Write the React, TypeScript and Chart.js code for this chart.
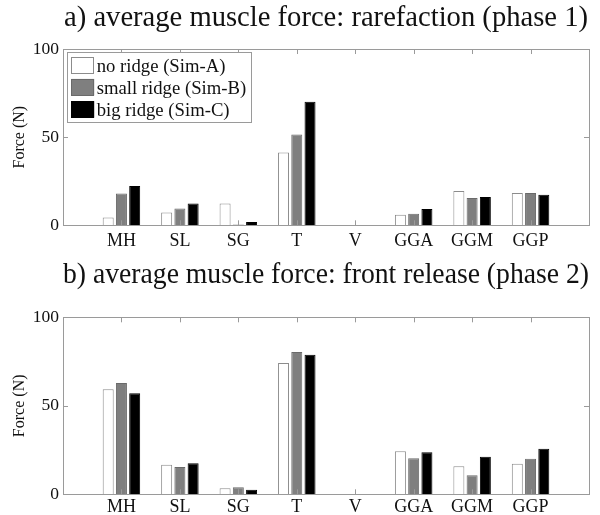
import React, { useEffect, useRef } from "react";
import { Chart, registerables } from "chart.js";

Chart.register(...registerables);

const CATEGORIES = ["MH", "SL", "SG", "T", "V", "GGA", "GGM", "GGP"];
const SERIES_LABELS = ["no ridge (Sim-A)", "small ridge (Sim-B)", "big ridge (Sim-C)"];
const TITLE_A = "a) average muscle force: rarefaction (phase 1)";
const TITLE_B = "b) average muscle force: front release (phase 2)";
const Y_LABEL = "Force (N)";
const Y_TICKS = [0, 50, 100];

const PHASE1_SIM_A = [4.4, 7.2, 12.3, 41.3, 0.2, 6.0, 19.4, 18.3];
const PHASE1_SIM_B = [18.0, 9.5, 0.5, 51.5, 0.2, 6.5, 15.5, 18.3];
const PHASE1_SIM_C = [22.3, 12.3, 1.9, 70.1, 0.2, 9.2, 16.0, 17.3];

const PHASE2_SIM_A = [59.3, 16.7, 3.4, 74.2, 0.2, 24.3, 15.8, 17.3];
const PHASE2_SIM_B = [62.9, 15.4, 4.0, 80.4, 0.2, 20.3, 10.7, 20.1];
const PHASE2_SIM_C = [57.1, 17.5, 2.6, 78.9, 0.2, 23.7, 21.2, 25.8];

const FILLS = ["#ffffff", "#7f7f7f", "#000000"];
const EDGES = ["#8c8c8c", "#6a6a6a", "#000000"];
const FRAME = "#9a9a9a";
const TEXT = "#111111";
const FONT = "'Liberation Serif', 'Times New Roman', serif";

Chart.defaults.font.family = FONT;
Chart.defaults.color = TEXT;

const framePlugin = {
  id: "frame",
  afterDatasetsDraw(chart: any) {
    const { ctx, chartArea } = chart;
    const xs = chart.scales.x;
    const ys = chart.scales.y;
    const tl = 5;
    ctx.save();
    ctx.strokeStyle = FRAME;
    ctx.lineWidth = 1;
    ctx.beginPath();
    for (let i = 1; i <= CATEGORIES.length; i++) {
      const px = Math.round(xs.getPixelForValue(i)) + 0.5;
      ctx.moveTo(px, chartArea.top);
      ctx.lineTo(px, chartArea.top + tl);
      ctx.moveTo(px, chartArea.bottom);
      ctx.lineTo(px, chartArea.bottom - tl);
    }
    for (const t of Y_TICKS) {
      const py = Math.round(ys.getPixelForValue(t)) + 0.5;
      ctx.moveTo(chartArea.left, py);
      ctx.lineTo(chartArea.left + tl, py);
      ctx.moveTo(chartArea.right, py);
      ctx.lineTo(chartArea.right - tl, py);
    }
    ctx.stroke();
    ctx.strokeRect(
      Math.round(chartArea.left) + 0.5,
      Math.round(chartArea.top) + 0.5,
      Math.round(chartArea.right - chartArea.left),
      Math.round(chartArea.bottom - chartArea.top)
    );
    ctx.restore();
  },
};

const boxLegendPlugin = {
  id: "boxLegend",
  afterDraw(chart: any, _args: any, opts: any) {
    if (!opts || !opts.show) return;
    const { ctx, chartArea } = chart;
    const left = chartArea.left + 3.7;
    const top = chartArea.top + 3.3;
    const w = 184;
    const h = 70;
    ctx.save();
    ctx.fillStyle = "#ffffff";
    ctx.fillRect(left, top, w, h);
    ctx.strokeStyle = FRAME;
    ctx.lineWidth = 1;
    ctx.strokeRect(Math.round(left) + 0.5, Math.round(top) + 0.5, w, h);
    ctx.font = `18.7px ${FONT}`;
    ctx.textBaseline = "alphabetic";
    ctx.textAlign = "left";
    chart.data.datasets.forEach((ds: any, i: number) => {
      const sy = top + 4.4 + i * 22.2;
      ctx.fillStyle = ds.backgroundColor;
      ctx.fillRect(left + 4.5, sy, 23, 16.6);
      ctx.strokeStyle = ds.borderColor;
      ctx.strokeRect(Math.round(left + 4.5) + 0.5, Math.round(sy) + 0.5, 22, 16);
      ctx.fillStyle = TEXT;
      ctx.fillText(ds.label, left + 30, top + 19.4 + i * 22);
    });
    ctx.restore();
  },
};

type PanelProps = {
  title: string;
  a: number[];
  b: number[];
  c: number[];
  height: number;
  titlePad: { top: number; bottom: number };
  xHeight: number;
  xPad: number;
  legend: boolean;
};

function Panel(props: PanelProps) {
  const ref = useRef<HTMLCanvasElement | null>(null);
  useEffect(() => {
    if (!ref.current) return;
    const series = [props.a, props.b, props.c];
    const chart = new Chart(ref.current, {
      type: "bar",
      data: {
        datasets: series.map((vals, si) => ({
          label: SERIES_LABELS[si],
          data: vals.map((v, i) => ({ x: i + 1, y: v })),
          backgroundColor: FILLS[si],
          borderColor: EDGES[si],
          borderWidth: 1,
          categoryPercentage: 0.68,
          barPercentage: 0.83,
        })),
      },
      options: {
        animation: false,
        responsive: false,
        layout: { padding: { left: 0, right: 11, top: 0, bottom: 0 } },
        plugins: {
          legend: { display: false },
          tooltip: { enabled: false },
          title: {
            display: true,
            text: props.title,
            fullSize: false,
            color: TEXT,
            font: { size: 28.6, weight: "normal" },
            padding: props.titlePad,
          },
          boxLegend: { show: props.legend },
        } as any,
        scales: {
          x: {
            type: "linear",
            min: 0,
            max: CATEGORIES.length + 1,
            offset: false,
            grid: { display: false, drawTicks: false },
            border: { display: false },
            ticks: {
              stepSize: 1,
              autoSkip: false,
              maxRotation: 0,
              padding: props.xPad,
              color: TEXT,
              font: { size: 18 },
              callback: (v: any) => CATEGORIES[Number(v) - 1] ?? "",
            },
            afterFit: (s: any) => {
              s.height = props.xHeight;
            },
          },
          y: {
            min: 0,
            max: 100,
            grid: { display: false, drawTicks: false },
            border: { display: false },
            ticks: {
              stepSize: 50,
              padding: 4,
              color: TEXT,
              font: { size: 17.5 },
            },
            title: {
              display: true,
              text: Y_LABEL,
              color: TEXT,
              font: { size: 16 },
              padding: { top: 10, bottom: 0 },
            },
            afterFit: (s: any) => {
              s.width = 63;
            },
          },
        },
      } as any,
      plugins: [framePlugin, boxLegendPlugin],
    });
    return () => chart.destroy();
  }, []);
  return (
    <canvas
      ref={ref}
      width={600}
      height={props.height}
      style={{ display: "block", width: 600, height: props.height }}
    />
  );
}

export default function App() {
  return (
    <div
      style={{
        position: "absolute",
        left: 0,
        top: 0,
        width: 600,
        height: 515,
        background: "#ffffff",
      }}
    >
      <Panel
        title={TITLE_A}
        a={PHASE1_SIM_A}
        b={PHASE1_SIM_B}
        c={PHASE1_SIM_C}
        height={258}
        titlePad={{ top: 1.4, bottom: 13.3 }}
        xHeight={32.7}
        xPad={5}
        legend={true}
      />
      <Panel
        title={TITLE_B}
        a={PHASE2_SIM_A}
        b={PHASE2_SIM_B}
        c={PHASE2_SIM_C}
        height={257}
        titlePad={{ top: 0.1, bottom: 24.9 }}
        xHeight={20.7}
        xPad={2}
        legend={false}
      />
    </div>
  );
}
